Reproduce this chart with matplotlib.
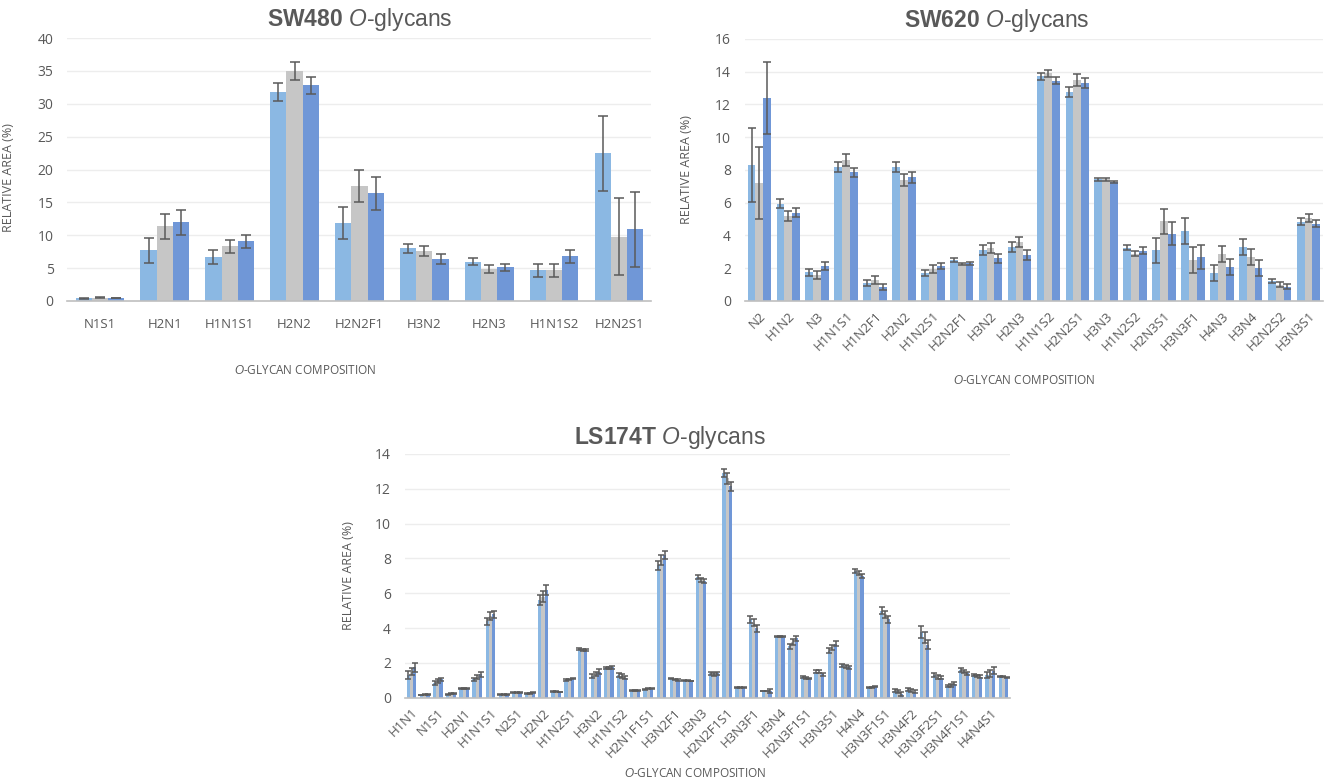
import numpy as np
import matplotlib
matplotlib.use('Agg')
from matplotlib import pyplot as plt

plt.rcParams['font.family'] = ['Open Sans', 'DejaVu Sans']
plt.rcParams['mathtext.fontset'] = 'custom'
plt.rcParams['mathtext.rm'] = 'Liberation Sans'
plt.rcParams['mathtext.it'] = 'Liberation Sans:italic'
plt.rcParams['mathtext.bf'] = 'Liberation Sans:bold'

# SW480
SW480_CATS = ['N1S1', 'H2N1', 'H1N1S1', 'H2N2', 'H2N2F1', 'H3N2', 'H2N3', 'H1N1S2', 'H2N2S1']
SW480_A = [0.4, 7.7, 6.7, 31.8, 11.9, 8.0, 6.0, 4.7, 22.5]
SW480_B = [0.5, 11.4, 8.3, 35.0, 17.5, 7.6, 4.8, 4.7, 9.8]
SW480_C = [0.45, 12.0, 9.1, 32.8, 16.4, 6.4, 5.1, 6.8, 10.9]
SW480_EA = [0.05, 1.9, 1.0, 1.4, 2.4, 0.7, 0.6, 1.0, 5.7]
SW480_EB = [0.05, 1.9, 1.0, 1.4, 2.5, 0.7, 0.6, 1.0, 5.8]
SW480_EC = [0.05, 1.9, 1.0, 1.3, 2.5, 0.7, 0.5, 1.0, 5.7]

# SW620
SW620_CATS = ['N2', 'H1N2', 'N3', 'H1N1S1', 'H1N2F1', 'H2N2', 'H1N2S1', 'H2N2F1', 'H3N2', 'H2N3',
              'H1N1S2', 'H2N2S1', 'H3N3', 'H1N2S2', 'H2N3S1', 'H3N3F1', 'H4N3', 'H3N4', 'H2N2S2', 'H3N3S1']
SW620_A = [8.3, 5.95, 1.75, 8.2, 1.1, 8.2, 1.7, 2.5, 3.1, 3.3, 13.72, 12.75, 7.43, 3.25, 3.1, 4.25, 1.72, 3.28, 1.22, 4.85]
SW620_B = [7.2, 5.2, 1.6, 8.6, 1.3, 7.4, 1.95, 2.25, 3.25, 3.6, 13.9, 13.5, 7.42, 2.9, 4.87, 2.52, 2.88, 2.7, 1.0, 5.05]
SW620_C = [12.4, 5.4, 2.15, 7.85, 0.85, 7.55, 2.15, 2.3, 2.6, 2.8, 13.45, 13.3, 7.27, 3.07, 4.1, 2.68, 2.08, 2.02, 0.88, 4.73]
SW620_EA = [2.25, 0.3, 0.2, 0.3, 0.2, 0.3, 0.2, 0.1, 0.3, 0.3, 0.2, 0.3, 0.1, 0.15, 0.75, 0.8, 0.5, 0.5, 0.15, 0.2]
SW620_EB = [2.2, 0.3, 0.25, 0.35, 0.25, 0.35, 0.25, 0.08, 0.3, 0.3, 0.2, 0.35, 0.1, 0.15, 0.75, 0.8, 0.5, 0.5, 0.15, 0.25]
SW620_EC = [2.2, 0.3, 0.25, 0.3, 0.2, 0.35, 0.2, 0.1, 0.3, 0.3, 0.2, 0.3, 0.08, 0.2, 0.7, 0.75, 0.5, 0.5, 0.15, 0.2]

# LS174T (labels shown on every other composition)
LS_LABELS = ['H1N1', 'N1S1', 'H2N1', 'H1N1S1', 'N2S1', 'H2N2', 'H1N2S1', 'H3N2', 'H1N1S2', 'H2N1F1S1',
             'H3N2F1', 'H3N3', 'H2N2F1S1', 'H3N3F1', 'H3N4', 'H2N3F1S1', 'H3N3S1', 'H4N4', 'H3N3F1S1',
             'H3N4F2', 'H3N3F2S1', 'H3N4F1S1', 'H4N4S1']
LS_A = [1.3, 0.15, 0.85, 0.2, 0.55, 1.05, 4.4, 0.18, 0.3, 0.22, 5.6, 0.35, 1.0, 2.8, 1.25, 1.7,
        1.3, 0.4, 0.45, 7.6, 1.1, 1.0, 6.95, 1.4, 12.9, 0.6, 4.5, 0.38, 3.5, 2.95, 1.2, 1.5,
        2.7, 1.85, 7.3, 0.6, 5.0, 0.4, 0.45, 3.75, 1.3, 0.65, 1.6, 1.3, 1.3, 1.2]
LS_B = [1.5, 0.17, 0.95, 0.22, 0.55, 1.2, 4.7, 0.18, 0.3, 0.25, 5.8, 0.35, 1.05, 2.75, 1.35, 1.7,
        1.25, 0.4, 0.5, 7.9, 1.05, 1.0, 6.75, 1.35, 12.6, 0.6, 4.3, 0.38, 3.5, 3.2, 1.15, 1.5,
        2.9, 1.8, 7.15, 0.6, 4.8, 0.35, 0.4, 3.45, 1.2, 0.7, 1.5, 1.25, 1.4, 1.2]
LS_C = [1.75, 0.2, 1.05, 0.25, 0.55, 1.35, 4.8, 0.2, 0.3, 0.3, 6.2, 0.32, 1.1, 2.75, 1.5, 1.75,
        1.15, 0.4, 0.5, 8.2, 1.0, 0.95, 6.7, 1.4, 12.15, 0.6, 4.0, 0.38, 3.5, 3.4, 1.1, 1.35,
        3.1, 1.75, 7.0, 0.65, 4.5, 0.2, 0.35, 3.05, 1.15, 0.8, 1.4, 1.2, 1.55, 1.15]
LS_EA = [0.25, 0.02, 0.1, 0.02, 0.03, 0.1, 0.2, 0.02, 0.02, 0.03, 0.3, 0.02, 0.05, 0.05, 0.12, 0.08,
         0.1, 0.02, 0.03, 0.25, 0.05, 0.02, 0.12, 0.08, 0.25, 0.03, 0.2, 0.02, 0.03, 0.15, 0.05, 0.08,
         0.15, 0.08, 0.12, 0.03, 0.2, 0.1, 0.08, 0.35, 0.1, 0.05, 0.1, 0.08, 0.15, 0.03]
LS_EB = [0.2, 0.02, 0.1, 0.02, 0.03, 0.12, 0.25, 0.02, 0.02, 0.03, 0.3, 0.02, 0.05, 0.05, 0.12, 0.08,
         0.1, 0.02, 0.03, 0.3, 0.05, 0.02, 0.12, 0.08, 0.3, 0.03, 0.2, 0.02, 0.03, 0.15, 0.05, 0.08,
         0.15, 0.08, 0.12, 0.03, 0.2, 0.1, 0.08, 0.3, 0.1, 0.08, 0.1, 0.08, 0.2, 0.03]
LS_EC = [0.25, 0.02, 0.1, 0.02, 0.03, 0.15, 0.2, 0.02, 0.02, 0.03, 0.3, 0.02, 0.05, 0.05, 0.12, 0.08,
         0.1, 0.02, 0.03, 0.25, 0.05, 0.02, 0.12, 0.08, 0.25, 0.03, 0.2, 0.1, 0.03, 0.15, 0.05, 0.08,
         0.15, 0.08, 0.12, 0.03, 0.2, 0.1, 0.08, 0.25, 0.1, 0.08, 0.1, 0.08, 0.2, 0.03]

COLORS = ['#8BB8E3', '#C6C6C6', '#7097D7']
TXT = '#595959'


def draw_groups(ax, A, B, C, EA, EB, EC, width, cap):
    X = np.arange(len(A))
    for i, (vals, errs) in enumerate([(A, EA), (B, EB), (C, EC)]):
        ax.bar(X + (i - 1) * width, vals, width, color=COLORS[i], zorder=2)
        ax.errorbar(X + (i - 1) * width, vals, yerr=errs, fmt='none', ecolor='#5A5A5A',
                    elinewidth=1.1, capsize=cap, capthick=1.1, zorder=3)
    ax.set_xlim(-0.5, len(A) - 0.5)


def style(ax, ymax, step):
    ax.set_ylim(0, ymax)
    ax.set_yticks(np.arange(0, ymax + 0.1, step))
    for s in ['top', 'right', 'left']:
        ax.spines[s].set_visible(False)
    ax.spines['bottom'].set_color('#BFBFBF')
    ax.spines['bottom'].set_linewidth(1.2)
    ax.grid(axis='y', color='#EDEDED', linewidth=1, zorder=0)
    ax.set_axisbelow(True)
    ax.tick_params(length=0, colors=TXT, labelsize=9.5)
    ax.tick_params(axis='y', pad=10, labelsize=10)


fig = plt.figure(figsize=(13.26, 7.81), dpi=100)

ax1 = fig.add_axes([0.0509, 0.6146, 0.4404, 0.3367])
draw_groups(ax1, SW480_A, SW480_B, SW480_C, SW480_EA, SW480_EB, SW480_EC, 0.25, 3.5)
style(ax1, 40, 5)
ax1.set_xticks(range(len(SW480_CATS)))
ax1.set_xticklabels(SW480_CATS)
ax1.tick_params(axis='x', pad=12)
ax1.set_title(r'$\mathbf{SW480}$ $\mathit{O}$-glycans', fontsize=16.5, color=TXT,
              family='Liberation Sans', x=0.5, y=1.015)
ax1.set_ylabel('RELATIVE AREA (%)', fontsize=9, color=TXT)
ax1.yaxis.set_label_coords(-0.09, 0.47)
ax1.set_xlabel(r'$\mathit{O}$-GLYCAN COMPOSITION', fontsize=8.5, color=TXT)
ax1.xaxis.set_label_coords(0.407, -0.24)

ax2 = fig.add_axes([0.5618, 0.6146, 0.4359, 0.3355])
draw_groups(ax2, SW620_A, SW620_B, SW620_C, SW620_EA, SW620_EB, SW620_EC, 0.27, 3)
style(ax2, 16, 2)
ax2.set_xticks(range(len(SW620_CATS)))
ax2.set_xticklabels(SW620_CATS, rotation=45, ha='right', rotation_mode='anchor')
ax2.tick_params(axis='x', pad=6)
ax2.set_title(r'$\mathbf{SW620}$ $\mathit{O}$-glycans', fontsize=16.5, color=TXT,
              family='Liberation Sans', x=0.436, y=1.015)
ax2.set_ylabel('RELATIVE AREA (%)', fontsize=9, color=TXT)
ax2.yaxis.set_label_coords(-0.09, 0.5)
ax2.set_xlabel(r'$\mathit{O}$-GLYCAN COMPOSITION', fontsize=8.5, color=TXT)
ax2.xaxis.set_label_coords(0.484, -0.28)

ax3 = fig.add_axes([0.3054, 0.1067, 0.4563, 0.312])
draw_groups(ax3, LS_A, LS_B, LS_C, LS_EA, LS_EB, LS_EC, 0.25, 2)
style(ax3, 14, 2)
ax3.set_xticks(range(0, len(LS_A) - 1, 2))
ax3.set_xticklabels(LS_LABELS, rotation=45, ha='right', rotation_mode='anchor')
ax3.tick_params(axis='x', pad=6)
ax3.set_title(r'$\mathbf{LS174T}$ $\mathit{O}$-glycans', fontsize=16.5, color=TXT,
              family='Liberation Sans', x=0.438, y=1.005)
ax3.set_ylabel('RELATIVE AREA (%)', fontsize=9, color=TXT)
ax3.yaxis.set_label_coords(-0.083, 0.5)
ax3.set_xlabel(r'$\mathit{O}$-GLYCAN COMPOSITION', fontsize=8.5, color=TXT)
ax3.xaxis.set_label_coords(0.479, -0.285)

plt.savefig('out.png', dpi=100, facecolor='white')
